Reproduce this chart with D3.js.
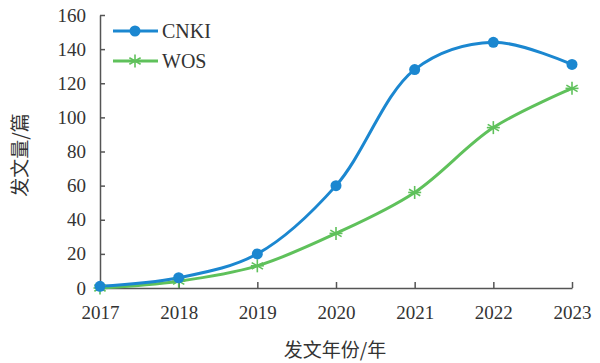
<!DOCTYPE html>
<html>
<head>
<meta charset="utf-8">
<script src="https://cdn.jsdelivr.net/npm/d3@7"></script>
<style>
  body { margin: 0; background: #fff; }
  text { font-family: "Liberation Serif", "Times New Roman", serif; }
  .cjk { font-family: "Noto Sans CJK SC", sans-serif; }
</style>
</head>
<body>
<script>
const years = [2017, 2018, 2019, 2020, 2021, 2022, 2023];
const cnki = [1, 6, 20, 60, 128, 144, 131];
const wos = [0, 4, 13, 32, 56, 94, 117];
const yTicks = [0, 20, 40, 60, 80, 100, 120, 140, 160];

const margin = { top: 15, right: 28, bottom: 75, left: 100 },
    width = 600 - margin.left - margin.right,
    height = 363 - margin.top - margin.bottom;

const blue = "#1b87d0", green = "#5fc15b", axisColor = "#555";

const xScale = d3.scalePoint()
    .domain(years)
    .range([0, width]);

const yScale = d3.scaleLinear()
    .domain([0, 160])
    .range([height, 0]);

const svg = d3.select("body").append("svg")
    .attr("width", 600)
    .attr("height", 363);

const g = svg.append("g")
    .attr("transform", "translate(" + margin.left + "," + margin.top + ")");

// axes, ticks pointing inward
const xAxis = g.append("g")
    .attr("transform", "translate(0," + height + ")")
    .call(d3.axisBottom(xScale).tickSize(-6).tickSizeOuter(0).tickPadding(18));

const yAxis = g.append("g")
    .call(d3.axisLeft(yScale).tickValues(yTicks).tickSize(-5).tickSizeOuter(0).tickPadding(14));

[xAxis, yAxis].forEach(a => {
    a.selectAll("path, line").attr("stroke", axisColor).attr("stroke-width", 1.5);
    a.selectAll("text")
        .attr("font-family", "Liberation Serif, serif")
        .attr("font-size", 19)
        .attr("fill", "#333");
});

const line = d3.line()
    .x((d, i) => xScale(years[i]))
    .y(d => yScale(d))
    .curve(d3.curveCatmullRom.alpha(0.5));

g.append("path")
    .datum(wos)
    .attr("fill", "none")
    .attr("stroke", green)
    .attr("stroke-width", 3)
    .attr("d", line);

g.append("path")
    .datum(cnki)
    .attr("fill", "none")
    .attr("stroke", blue)
    .attr("stroke-width", 3)
    .attr("d", line);

function star(sel, x, y, r) {
    const s = sel.append("g").attr("transform", "translate(" + x + "," + y + ")")
        .attr("stroke", green).attr("stroke-width", 1.6);
    [0, 60, 120].forEach(a => {
        const rad = a * Math.PI / 180 + Math.PI / 2;
        s.append("line")
            .attr("x1", -r * Math.cos(rad)).attr("y1", -r * Math.sin(rad))
            .attr("x2", r * Math.cos(rad)).attr("y2", r * Math.sin(rad));
    });
    s.append("line").attr("x1", -r).attr("x2", r).attr("y1", 0).attr("y2", 0);
}

wos.forEach((v, i) => star(g, xScale(years[i]), yScale(v), 6.5));

g.selectAll("circle.cnki")
    .data(cnki)
    .enter().append("circle")
    .attr("class", "cnki")
    .attr("cx", (d, i) => xScale(years[i]))
    .attr("cy", d => yScale(d))
    .attr("r", 5.5)
    .attr("fill", blue);

// legend
const legend = svg.append("g").attr("transform", "translate(113,0)");
legend.append("line").attr("x1", 0).attr("x2", 45).attr("y1", 31).attr("y2", 31)
    .attr("stroke", blue).attr("stroke-width", 3);
legend.append("circle").attr("cx", 22).attr("cy", 31).attr("r", 5.5).attr("fill", blue);
legend.append("text").attr("x", 49).attr("y", 38).attr("font-size", 20).attr("fill", "#333").text("CNKI");

legend.append("line").attr("x1", 0).attr("x2", 45).attr("y1", 61).attr("y2", 61)
    .attr("stroke", green).attr("stroke-width", 3);
star(legend, 22, 61, 6.5);
legend.append("text").attr("x", 49).attr("y", 68).attr("font-size", 20).attr("fill", "#333").text("WOS");

// axis titles
svg.append("text")
    .attr("class", "cjk")
    .attr("x", 335)
    .attr("y", 357)
    .attr("text-anchor", "middle")
    .attr("font-size", 19)
    .attr("fill", "#333")
    .text("发文年份/年");

svg.append("text")
    .attr("class", "cjk")
    .attr("transform", "translate(27,155) rotate(-90)")
    .attr("text-anchor", "middle")
    .attr("font-size", 19)
    .attr("fill", "#333")
    .text("发文量/篇");
</script>
</body>
</html>
